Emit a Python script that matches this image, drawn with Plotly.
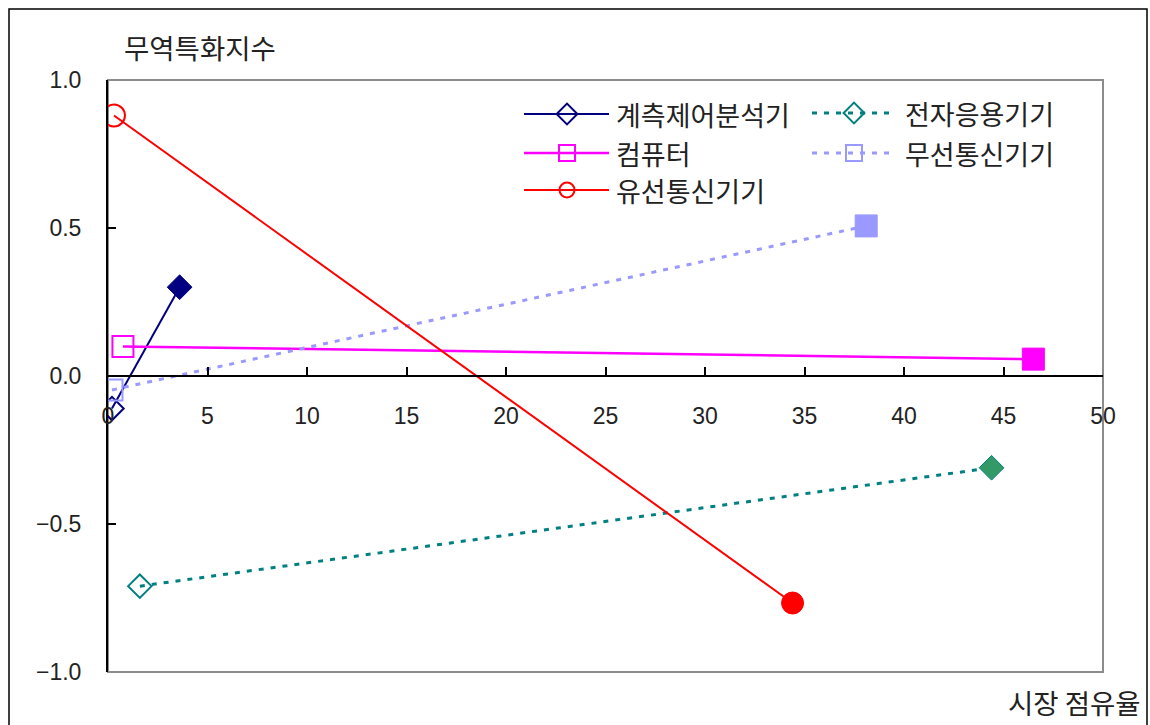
import plotly.graph_objects as go

# Products: trade specialisation index vs. market share, start -> end
products = ["계측제어분석기", "전자응용기기", "컴퓨터", "무선통신기기", "유선통신기기"]
share_start = [0.2, 1.6, 0.75, 0.2, 0.3]
share_end = [3.6, 44.4, 46.5, 38.1, 34.4]
index_start = [-0.11, -0.71, 0.10, -0.047, 0.88]
index_end = [0.30, -0.31, 0.057, 0.507, -0.767]

x_ticks = [0, 5, 10, 15, 20, 25, 30, 35, 40, 45, 50]
y_ticks = [-1.0, -0.5, 0.0, 0.5, 1.0]
y_tick_text = ["\u22121.0", "\u22120.5", "0.0", "0.5", "1.0"]

# Styling per product
line_color = ["#000080", "#008080", "#FF00FF", "#9999FF", "#FF0000"]
end_fill = ["#000080", "#339966", "#FF00FF", "#9999FF", "#FF0000"]
dash = ["solid", "5px,7px", "solid", "5px,7px", "solid"]
line_w = [2, 3, 2.5, 3, 2]
sym = ["diamond", "diamond", "square", "square", "circle"]
open_size = [18, 18, 21, 21, 22]
end_size = [19, 19, 22, 22, 22]
legend_size = [16, 16, 16, 16, 15]

W, H = 1150, 725
L, R, T, B = 108, 1103, 80, 672  # plot area in px

NUM_FONT = "Liberation Sans, Arial, sans-serif"
KR_FONT = "Noto Sans CJK KR, sans-serif"
TXT = "#222222"

fig = go.Figure()

for i, name in enumerate(products):
    fig.add_trace(go.Scatter(
        x=[share_start[i], share_end[i]],
        y=[index_start[i], index_end[i]],
        mode="lines+markers",
        name=name,
        showlegend=False,
        line=dict(color=line_color[i], width=line_w[i], dash=dash[i]),
        marker=dict(
            symbol=[sym[i] + "-open", sym[i]],
            size=[open_size[i], end_size[i]],
            color=[line_color[i], end_fill[i]],
            opacity=1,
            line=dict(color=line_color[i], width=[2, 1]),
        ),
    ))

# Legend, laid out in pixel space on an overlay axis pair
legend_cols = [(524, 609, 567, 614), (812, 892, 854, 903)]
legend_layout = [(0, 114), (1, 113), (0, 153), (1, 153), (0, 190)]
for i, name in enumerate(products):
    col, yy = legend_layout[i]
    x0, x1, xm, xt = legend_cols[col]
    fig.add_trace(go.Scatter(
        x=[x0, x1], y=[yy, yy], mode="lines", xaxis="x2", yaxis="y2",
        showlegend=False, hoverinfo="skip",
        line=dict(color=line_color[i], width=line_w[i], dash=dash[i]),
    ))
    fig.add_trace(go.Scatter(
        x=[xm], y=[yy], mode="markers", xaxis="x2", yaxis="y2",
        showlegend=False, hoverinfo="skip",
        marker=dict(symbol=sym[i] + "-open", size=legend_size[i],
                    color=line_color[i], opacity=1, line=dict(width=2)),
    ))
    fig.add_annotation(
        x=xt, y=yy, xref="x2", yref="y2", text=name, showarrow=False,
        xanchor="left", yanchor="middle",
        font=dict(family=KR_FONT, size=27, color=TXT),
    )

def px_x(px):
    return (px - L) / (R - L)

def px_y(py):
    return (B - py) / (B - T)

# plot-area border (grey) and outer frame (black)
fig.add_shape(type="rect", xref="paper", yref="paper", x0=0, x1=1, y0=0, y1=1,
              line=dict(color="#8c8c8c", width=2), layer="below")
fig.add_shape(type="rect", xref="paper", yref="paper",
              x0=px_x(9), x1=px_x(1147), y0=px_y(740), y1=px_y(9),
              line=dict(color="#000000", width=1.5), layer="below")

fig.add_annotation(x=px_x(200), y=px_y(47), xref="paper", yref="paper",
                   text="무역특화지수", showarrow=False, xanchor="center", yanchor="middle",
                   font=dict(family=KR_FONT, size=27.5, color=TXT))
fig.add_annotation(x=px_x(1143), y=px_y(702), xref="paper", yref="paper",
                   text="시장 점유율", showarrow=False, xanchor="right", yanchor="middle",
                   font=dict(family=KR_FONT, size=27.5, color=TXT))

fig.update_layout(
    width=W, height=H,
    margin=dict(l=L, r=W - R, t=T, b=H - B),
    paper_bgcolor="white", plot_bgcolor="white",
    showlegend=False,
    xaxis=dict(
        range=[0, 50], tickvals=x_ticks, ticktext=[str(v) for v in x_ticks],
        anchor="free", position=0.5,
        showline=True, linecolor="#000000", linewidth=1.5,
        ticks="inside", ticklen=8, tickcolor="#000000", tickwidth=1.5,
        ticklabelstandoff=20,
        showgrid=False, zeroline=False,
        tickfont=dict(family=NUM_FONT, size=23, color=TXT),
    ),
    yaxis=dict(
        range=[-1, 1], tickvals=y_ticks, ticktext=y_tick_text,
        showline=True, linecolor="#000000", linewidth=2,
        ticks="inside", ticklen=8, tickcolor="#000000", tickwidth=1.5,
        ticklabelstandoff=20,
        showgrid=False, zeroline=False,
        tickfont=dict(family=NUM_FONT, size=23, color=TXT),
    ),
    xaxis2=dict(range=[L, R], overlaying="x", anchor="y2", visible=False),
    yaxis2=dict(range=[B, T], overlaying="y", anchor="x2", visible=False),
)

fig.write_html("out.html")
